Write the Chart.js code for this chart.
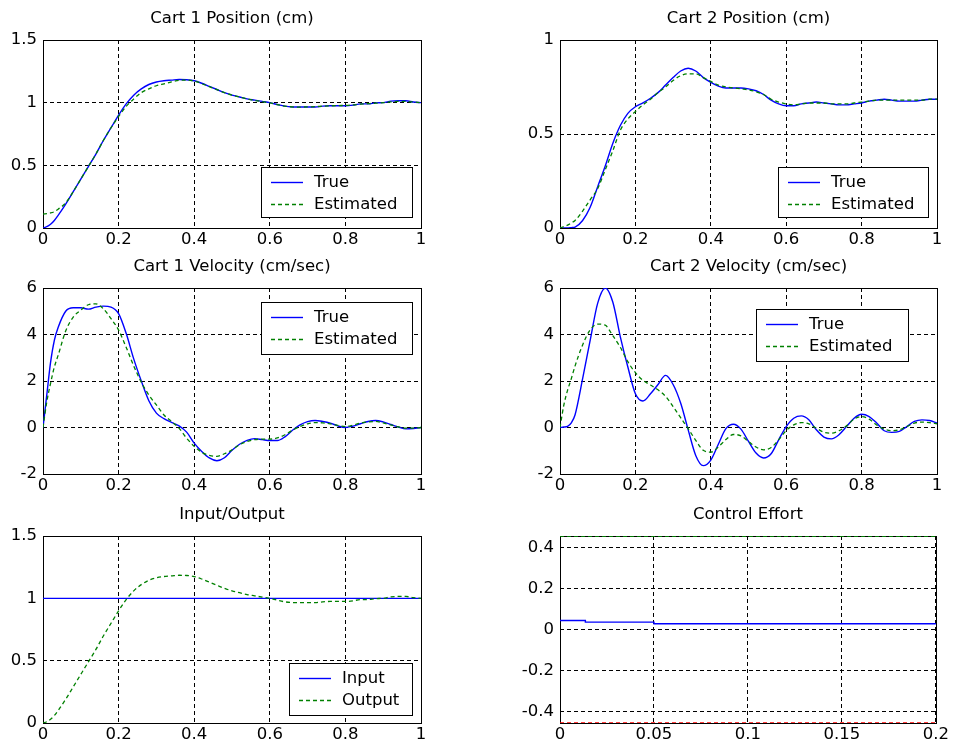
<!DOCTYPE html>
<html>
<head>
<meta charset="utf-8">
<script src="https://cdn.jsdelivr.net/npm/chart.js@4"></script>
<style>
  body { margin: 0; background: #fff; width: 953px; height: 751px; position: relative; overflow: hidden; }
  canvas { position: absolute; }
</style>
</head>
<body>
<canvas id="c1" width="435" height="253" style="left:0;top:0"></canvas>
<canvas id="c2" width="434" height="253" style="left:517px;top:0"></canvas>
<canvas id="c3" width="435" height="251" style="left:0;top:248px"></canvas>
<canvas id="c4" width="434" height="251" style="left:517px;top:248px"></canvas>
<canvas id="c5" width="435" height="252" style="left:0;top:496px"></canvas>
<canvas id="c6" width="434" height="252" style="left:517px;top:496px"></canvas>
<script>
'use strict'

// time samples (sec)
const T = [0, 0.01, 0.02, 0.03, 0.04, 0.06, 0.08, 0.1, 0.12, 0.14, 0.16, 0.18, 0.2, 0.22, 0.24, 0.26, 0.28,
  0.3, 0.32, 0.34, 0.36, 0.38, 0.4, 0.42, 0.44, 0.46, 0.48, 0.5, 0.52, 0.54, 0.56, 0.58, 0.6, 0.62, 0.64,
  0.66, 0.68, 0.7, 0.72, 0.74, 0.76, 0.78, 0.8, 0.82, 0.84, 0.86, 0.88, 0.9, 0.92, 0.94, 0.96, 0.98, 1];

const cart1PosTrue = [0, 0.01, 0.03, 0.06, 0.1, 0.19, 0.29, 0.39, 0.49, 0.59, 0.7, 0.8, 0.9, 0.99, 1.06, 1.11,
  1.145, 1.165, 1.175, 1.18, 1.185, 1.183, 1.175, 1.155, 1.13, 1.105, 1.08, 1.06, 1.045, 1.03, 1.02, 1.01,
  1.0, 0.985, 0.972, 0.966, 0.965, 0.965, 0.965, 0.972, 0.975, 0.975, 0.975, 0.98, 0.99, 0.99, 0.998, 1.0,
  1.012, 1.015, 1.015, 1.005, 1.0];
const cart1PosEst = [0.11, 0.115, 0.12, 0.13, 0.15, 0.2, 0.29, 0.39, 0.49, 0.59, 0.7, 0.8, 0.89, 0.97, 1.03,
  1.08, 1.11, 1.135, 1.15, 1.165, 1.178, 1.18, 1.172, 1.152, 1.128, 1.104, 1.08, 1.06, 1.045, 1.03, 1.018,
  1.008, 0.998, 0.985, 0.972, 0.966, 0.965, 0.966, 0.968, 0.972, 0.975, 0.977, 0.978, 0.982, 0.988, 0.992,
  0.996, 1.0, 1.006, 1.01, 1.01, 1.005, 1.0];

const cart2PosTrue = [0, 0, 0, 0.002, 0.005, 0.04, 0.11, 0.22, 0.33, 0.45, 0.545, 0.61, 0.645, 0.665, 0.69,
  0.72, 0.76, 0.8, 0.835, 0.85, 0.835, 0.8, 0.775, 0.755, 0.745, 0.745, 0.745, 0.74, 0.73, 0.71, 0.68, 0.66,
  0.65, 0.65, 0.66, 0.665, 0.67, 0.665, 0.66, 0.655, 0.655, 0.66, 0.665, 0.675, 0.68, 0.685, 0.68, 0.675,
  0.675, 0.675, 0.68, 0.685, 0.685];
const cart2PosEst = [0, 0.008, 0.015, 0.027, 0.04, 0.09, 0.15, 0.21, 0.31, 0.41, 0.52, 0.58, 0.62, 0.655,
  0.685, 0.72, 0.75, 0.785, 0.81, 0.82, 0.82, 0.8, 0.78, 0.76, 0.75, 0.745, 0.74, 0.735, 0.725, 0.71, 0.685,
  0.67, 0.66, 0.655, 0.66, 0.665, 0.665, 0.665, 0.66, 0.66, 0.66, 0.665, 0.67, 0.675, 0.68, 0.68, 0.68,
  0.68, 0.68, 0.68, 0.68, 0.685, 0.685];

const cart1VelTrue = [0, 1.4, 2.8, 3.75, 4.3, 5.0, 5.15, 5.15, 5.09, 5.18, 5.22, 5.18, 4.9, 4.05, 2.95, 2.0,
  1.15, 0.62, 0.38, 0.22, 0.07, -0.2, -0.67, -1.03, -1.31, -1.43, -1.3, -0.98, -0.72, -0.55, -0.48, -0.52,
  -0.56, -0.56, -0.4, -0.12, 0.11, 0.25, 0.3, 0.26, 0.19, 0.07, 0.0, 0.06, 0.16, 0.26, 0.3, 0.24, 0.13,
  0.02, -0.06, -0.04, 0];
const cart1VelEst = [0, 1.1, 1.9, 2.6, 3.1, 4.15, 4.75, 5.05, 5.28, 5.32, 5.1, 4.68, 4.19, 3.45, 2.65, 1.95,
  1.4, 0.97, 0.54, 0.26, -0.03, -0.46, -0.81, -1.07, -1.2, -1.24, -1.13, -0.96, -0.74, -0.6, -0.52, -0.5,
  -0.5, -0.45, -0.31, -0.12, 0.04, 0.16, 0.21, 0.2, 0.16, 0.09, 0.04, 0.1, 0.19, 0.24, 0.26, 0.2, 0.11,
  0.03, -0.03, -0.03, 0];

const cart2VelTrue = [0, 0.02, 0.05, 0.2, 0.55, 2.1, 3.75, 5.35, 6.0, 5.4, 3.9, 2.6, 1.45, 1.14, 1.45, 1.85,
  2.24, 1.85, 1.05, -0.1, -1.2, -1.64, -1.4, -0.72, -0.05, 0.14, -0.07, -0.6, -1.1, -1.31, -1.13, -0.53,
  0.04, 0.4, 0.5, 0.33, -0.1, -0.41, -0.49, -0.31, 0.04, 0.4, 0.57, 0.47, 0.19, -0.14, -0.21, -0.17, 0.04,
  0.26, 0.33, 0.3, 0.19];
const cart2VelEst = [0, 0.95, 1.6, 2.1, 2.65, 3.55, 4.2, 4.45, 4.4, 3.95, 3.45, 2.83, 2.36, 2.03, 1.83, 1.62,
  1.34, 0.9, 0.42, -0.05, -0.55, -0.98, -1.06, -0.84, -0.52, -0.3, -0.36, -0.6, -0.84, -0.96, -0.86, -0.53,
  -0.13, 0.11, 0.21, 0.16, -0.03, -0.2, -0.24, -0.14, 0.07, 0.36, 0.47, 0.36, 0.11, -0.07, -0.14, -0.1,
  0.04, 0.19, 0.23, 0.21, 0.16];

const inputTime = [0, 1];
const inputVals = [1, 1];
const outputVals = cart1PosTrue;

const effortTime = [0, 0.0135, 0.0135, 0.05, 0.05, 0.2];
const effortVals = [0.044, 0.044, 0.036, 0.036, 0.028, 0.028];
const limitTime = [0, 0.2];
const upperLimit = [0.457, 0.457];
const lowerLimit = [-0.457, -0.457];

// tick labels
const timeTicks = [0, 0.2, 0.4, 0.6, 0.8, 1];
const effortTimeTicks = [0, 0.05, 0.1, 0.15, 0.2];
const posTicks15 = [0, 0.5, 1, 1.5];
const posTicks1 = [0, 0.5, 1];
const velTicks = [-2, 0, 2, 4, 6];
const effortTicks = [-0.4, -0.2, 0, 0.2, 0.4];

Chart.defaults.font.family = '"DejaVu Sans", sans-serif';
Chart.defaults.font.size = 16.5;
Chart.defaults.color = '#000';

function pts(xs, ys) {
  return xs.map((x, i) => ({ x: x, y: ys[i] }));
}

function solid(label, xs, ys, color) {
  return { label: label, data: pts(xs, ys), borderColor: color, borderWidth: 1.4, pointRadius: 0,
    cubicInterpolationMode: 'monotone', fill: false, order: 1 };
}

function dashed(label, xs, ys, color) {
  return { label: label, data: pts(xs, ys), borderColor: color, borderWidth: 1.3, borderDash: [4, 3],
    pointRadius: 0, cubicInterpolationMode: 'monotone', fill: false, order: 0 };
}

function fmt(v) {
  return String(Math.round(v * 10000) / 10000);
}

function axis(ticks, dir, min, max) {
  return {
    type: 'linear',
    min: min !== undefined ? min : ticks[0],
    max: max !== undefined ? max : ticks[ticks.length - 1],
    afterBuildTicks: s => { s.ticks = ticks.map(v => ({ value: v })); },
    afterFit: s => { if (dir === 'x') s.height = 25; else s.width = 43; },
    grid: { color: '#000', lineWidth: 1, drawTicks: false },
    border: { display: false, dash: [4, 3] },
    ticks: { color: '#000', padding: dir === 'x' ? 2 : 6, maxRotation: 0, autoSkip: false, callback: v => fmt(v) }
  };
}

// axes box like matlab
const frame = {
  id: 'frame',
  beforeDatasetsDraw(chart) {
    const a = chart.chartArea, c = chart.ctx;
    c.save();
    c.strokeStyle = '#000';
    c.lineWidth = 1;
    c.setLineDash([]);
    c.strokeRect(Math.round(a.left) + 0.5, Math.round(a.top) + 0.5, Math.round(a.right - a.left), Math.round(a.bottom - a.top));
    c.restore();
  }
};

// legend box inside the axes
const boxLegend = {
  id: 'boxLegend',
  afterDraw(chart, args, opts) {
    if (!opts || opts.w === undefined) return;
    const a = chart.chartArea, c = chart.ctx;
    const x = Math.round(a.left + opts.x), y = Math.round(a.top + opts.y);
    c.save();
    c.fillStyle = '#fff';
    c.fillRect(x, y, opts.w, opts.h);
    c.strokeStyle = '#000';
    c.lineWidth = 1;
    c.strokeRect(x + 0.5, y + 0.5, opts.w, opts.h);
    c.font = '16.5px "DejaVu Sans", sans-serif';
    c.textBaseline = 'middle';
    const rows = [15, 37];
    chart.data.datasets.filter(d => d.label).forEach((d, i) => {
      const ry = y + rows[i] + 0.5;
      c.strokeStyle = d.borderColor;
      c.lineWidth = d.borderWidth;
      c.setLineDash(d.borderDash || []);
      c.beginPath();
      c.moveTo(x + 10, ry);
      c.lineTo(x + 42, ry);
      c.stroke();
      c.fillStyle = '#000';
      c.fillText(d.label, x + 53, ry);
    });
    c.restore();
  }
};

function makeChart(id, title, datasets, xAxis, yAxis, legend) {
  return new Chart(document.getElementById(id), {
    type: 'line',
    data: { datasets: datasets },
    options: {
      responsive: false,
      animation: false,
      events: [],
      layout: { padding: { right: 14 } },
      plugins: {
        legend: { display: false },
        tooltip: { enabled: false },
        title: { display: true, text: title, fullSize: false, color: '#000',
          font: { size: 16.5, weight: 'normal', lineHeight: '20px' }, padding: { top: 9, bottom: 11 } },
        boxLegend: legend || {}
      },
      scales: { x: xAxis, y: yAxis }
    },
    plugins: [frame, boxLegend]
  });
}

makeChart('c1', 'Cart 1 Position (cm)',
  [solid('True', T, cart1PosTrue, '#0000ff'), dashed('Estimated', T, cart1PosEst, '#008000')],
  axis(timeTicks, 'x'), axis(posTicks15, 'y'), { x: 218, y: 127, w: 151, h: 50 });

makeChart('c2', 'Cart 2 Position (cm)',
  [solid('True', T, cart2PosTrue, '#0000ff'), dashed('Estimated', T, cart2PosEst, '#008000')],
  axis(timeTicks, 'x'), axis(posTicks1, 'y'), { x: 218, y: 127, w: 150, h: 50 });

makeChart('c3', 'Cart 1 Velocity (cm/sec)',
  [solid('True', T, cart1VelTrue, '#0000ff'), dashed('Estimated', T, cart1VelEst, '#008000')],
  axis(timeTicks, 'x'), axis(velTicks, 'y'), { x: 218, y: 14, w: 151, h: 52 });

makeChart('c4', 'Cart 2 Velocity (cm/sec)',
  [solid('True', T, cart2VelTrue, '#0000ff'), dashed('Estimated', T, cart2VelEst, '#008000')],
  axis(timeTicks, 'x'), axis(velTicks, 'y'), { x: 196, y: 21, w: 152, h: 52 });

makeChart('c5', 'Input/Output',
  [solid('Input', inputTime, inputVals, '#0000ff'), dashed('Output', T, outputVals, '#008000')],
  axis(timeTicks, 'x'), axis(posTicks15, 'y'), { x: 246, y: 127, w: 123, h: 52 });

const effortLine = solid('', effortTime, effortVals, '#0000ff');
effortLine.cubicInterpolationMode = 'default';
effortLine.tension = 0;
effortLine.order = 0;
const upper = dashed('', limitTime, upperLimit, '#00a000');
const lower = dashed('', limitTime, lowerLimit, '#ff0000');
upper.order = 1;
lower.order = 1;
makeChart('c6', 'Control Effort', [effortLine, upper, lower],
  axis(effortTimeTicks, 'x'), axis(effortTicks, 'y', -0.457, 0.457));
</script>
</body>
</html>
